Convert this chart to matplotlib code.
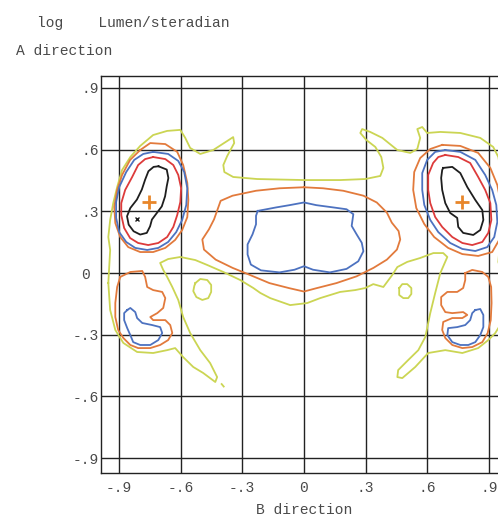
import matplotlib
matplotlib.use("Agg")
import matplotlib.pyplot as plt

# axis ticks (B direction = x, A direction = y)
ticks = [-0.9, -0.6, -0.3, 0.0, 0.3, 0.6, 0.9]
x_tick_labels = ["-.9", "-.6", "-.3", "0", ".3", ".6", ".9"]
y_tick_labels = ["-.9", "-.6", "-.3", "0 ", ".3", ".6", ".9"]

# iso-intensity lines, (B, A) pairs
# lowest level (yellow-green): one big loop round everything
yellow_outer = [
    (-0.951, -0.049), (-0.942, 0.112), (-0.951, 0.175), (-0.942, 0.258), (-0.927, 0.340),
    (-0.908, 0.418), (-0.884, 0.501), (-0.844, 0.564), (-0.796, 0.618), (-0.733, 0.671),
    (-0.665, 0.691), (-0.601, 0.696), (-0.577, 0.657), (-0.553, 0.608), (-0.504, 0.579),
    (-0.441, 0.598), (-0.373, 0.642), (-0.344, 0.661), (-0.339, 0.632), (-0.373, 0.569),
    (-0.392, 0.525), (-0.387, 0.491), (-0.344, 0.467), (-0.227, 0.457), (0.001, 0.452),
    (0.176, 0.452), (0.298, 0.457), (0.371, 0.472), (0.386, 0.511), (0.376, 0.564),
    (0.347, 0.613), (0.303, 0.647), (0.274, 0.681), (0.283, 0.700), (0.322, 0.686),
    (0.381, 0.657), (0.454, 0.598), (0.517, 0.584), (0.551, 0.603), (0.565, 0.657),
    (0.551, 0.700), (0.575, 0.710), (0.599, 0.681), (0.663, 0.686), (0.760, 0.681),
    (0.857, 0.657), (0.920, 0.613), (0.945, 0.564), (0.964, 0.452), (0.974, 0.306),
    (0.954, 0.161), (0.945, 0.054), (0.979, -0.058), (0.983, -0.156), (0.954, -0.253),
    (0.930, -0.292), (0.896, -0.326), (0.847, -0.365), (0.770, -0.389), (0.687, -0.375),
    (0.604, -0.389), (0.541, -0.457), (0.478, -0.511), (0.454, -0.506), (0.458, -0.472),
    (0.507, -0.423), (0.556, -0.375), (0.590, -0.311), (0.614, -0.195), (0.638, -0.097),
    (0.663, 0.000), (0.697, 0.078), (0.677, 0.097), (0.629, 0.097), (0.565, 0.073),
    (0.502, 0.054), (0.454, 0.029), (0.429, -0.010), (0.386, -0.068), (0.337, -0.054),
    (0.298, -0.073), (0.249, -0.083), (0.176, -0.092), (0.079, -0.122), (0.016, -0.146),
    (-0.067, -0.156), (-0.164, -0.122), (-0.212, -0.097), (-0.246, -0.073), (-0.310, -0.034),
    (-0.392, 0.005), (-0.470, 0.039), (-0.528, 0.063), (-0.601, 0.078), (-0.660, 0.068),
    (-0.699, 0.049), (-0.684, 0.015), (-0.665, -0.019), (-0.640, -0.068), (-0.611, -0.131),
    (-0.587, -0.214), (-0.553, -0.292), (-0.504, -0.375), (-0.456, -0.438), (-0.422, -0.506),
    (-0.431, -0.530), (-0.490, -0.486), (-0.538, -0.457), (-0.587, -0.409), (-0.626, -0.365),
    (-0.665, -0.375), (-0.733, -0.389), (-0.811, -0.384), (-0.878, -0.340), (-0.917, -0.277),
    (-0.942, -0.180),
]
yellow_ring_left = [
    (-0.528, -0.049), (-0.504, -0.029), (-0.470, -0.034), (-0.451, -0.058), (-0.451, -0.092),
    (-0.465, -0.122), (-0.494, -0.131), (-0.523, -0.117), (-0.538, -0.088), (-0.533, -0.063),
]
yellow_ring_right = [
    (0.463, -0.073), (0.478, -0.054), (0.502, -0.054), (0.522, -0.073), (0.522, -0.102),
    (0.507, -0.122), (0.483, -0.122), (0.463, -0.107),
]
yellow_dot = [(-0.400, -0.540), (-0.390, -0.552)]

# second level (orange)
orange_center = [
    (0.000, 0.417), (0.093, 0.412), (0.191, 0.400), (0.289, 0.376), (0.354, 0.343),
    (0.403, 0.294), (0.427, 0.245), (0.460, 0.204), (0.468, 0.163), (0.452, 0.114),
    (0.403, 0.065), (0.338, 0.025), (0.256, -0.016), (0.158, -0.049), (0.060, -0.074),
    (0.000, -0.090), (-0.070, -0.074), (-0.168, -0.049), (-0.266, -0.008), (-0.347, 0.025),
    (-0.429, 0.065), (-0.486, 0.114), (-0.494, 0.163), (-0.462, 0.212), (-0.437, 0.261),
    (-0.405, 0.351), (-0.347, 0.376), (-0.233, 0.400), (-0.119, 0.412),
]
orange_left_lobe = [
    (-0.796, 0.598), (-0.747, 0.632), (-0.674, 0.627), (-0.616, 0.589), (-0.587, 0.525),
    (-0.567, 0.438), (-0.562, 0.355), (-0.567, 0.272), (-0.592, 0.209), (-0.626, 0.161),
    (-0.674, 0.122), (-0.733, 0.102), (-0.796, 0.102), (-0.854, 0.126), (-0.893, 0.175),
    (-0.917, 0.243), (-0.922, 0.321), (-0.908, 0.404), (-0.884, 0.477), (-0.845, 0.550),
]
orange_right_lobe = [
    (0.672, 0.623), (0.760, 0.618), (0.847, 0.584), (0.906, 0.511), (0.940, 0.428),
    (0.959, 0.331), (0.964, 0.233), (0.949, 0.161), (0.915, 0.102), (0.847, 0.083),
    (0.770, 0.092), (0.701, 0.122), (0.633, 0.175), (0.585, 0.238), (0.546, 0.316),
    (0.531, 0.404), (0.536, 0.491), (0.565, 0.559), (0.614, 0.603),
]
orange_low_left = [
    (-0.893, -0.019), (-0.844, 0.005), (-0.786, 0.010), (-0.772, -0.019), (-0.762, -0.068),
    (-0.733, -0.083), (-0.689, -0.092), (-0.674, -0.122), (-0.684, -0.170), (-0.713, -0.195),
    (-0.747, -0.214), (-0.733, -0.229), (-0.674, -0.229), (-0.650, -0.253), (-0.640, -0.292),
    (-0.660, -0.326), (-0.699, -0.350), (-0.747, -0.365), (-0.806, -0.365), (-0.844, -0.350),
    (-0.878, -0.316), (-0.903, -0.277), (-0.917, -0.214), (-0.917, -0.146), (-0.908, -0.068),
]
orange_low_right = [
    (0.784, 0.000), (0.818, 0.015), (0.867, 0.005), (0.896, -0.019), (0.910, -0.068),
    (0.912, -0.146), (0.908, -0.229), (0.893, -0.292), (0.867, -0.336), (0.818, -0.360),
    (0.770, -0.365), (0.721, -0.350), (0.687, -0.316), (0.672, -0.277), (0.677, -0.238),
    (0.721, -0.219), (0.770, -0.219), (0.794, -0.204), (0.774, -0.190), (0.721, -0.195),
    (0.687, -0.190), (0.667, -0.156), (0.667, -0.117), (0.697, -0.092), (0.745, -0.092),
    (0.774, -0.073), (0.784, -0.034),
]

# third level (blue)
blue_center = [
    (-0.225, 0.302), (-0.135, 0.319), (-0.070, 0.330), (0.000, 0.343), (0.060, 0.330),
    (0.142, 0.319), (0.207, 0.310), (0.240, 0.286), (0.232, 0.229), (0.256, 0.188),
    (0.281, 0.147), (0.289, 0.106), (0.264, 0.057), (0.207, 0.020), (0.126, 0.003),
    (0.044, 0.016), (0.000, 0.033), (-0.046, 0.016), (-0.119, 0.003), (-0.209, 0.013),
    (-0.258, 0.041), (-0.274, 0.090), (-0.274, 0.139), (-0.250, 0.188), (-0.233, 0.237),
    (-0.233, 0.278),
]
blue_left_lobe = [
    (-0.733, 0.589), (-0.660, 0.579), (-0.611, 0.545), (-0.582, 0.491), (-0.567, 0.413),
    (-0.572, 0.331), (-0.592, 0.258), (-0.621, 0.199), (-0.660, 0.151), (-0.708, 0.122),
    (-0.762, 0.112), (-0.820, 0.122), (-0.864, 0.151), (-0.898, 0.199), (-0.913, 0.268),
    (-0.913, 0.345), (-0.898, 0.418), (-0.864, 0.491), (-0.825, 0.550), (-0.781, 0.579),
]
blue_right_lobe = [
    (0.687, 0.598), (0.760, 0.589), (0.833, 0.550), (0.881, 0.477), (0.915, 0.404),
    (0.935, 0.331), (0.940, 0.248), (0.925, 0.175), (0.891, 0.126), (0.833, 0.107),
    (0.770, 0.117), (0.711, 0.146), (0.653, 0.199), (0.614, 0.258), (0.585, 0.331),
    (0.575, 0.404), (0.575, 0.486), (0.599, 0.550), (0.638, 0.589),
]
blue_low_left = [
    (-0.859, -0.180), (-0.844, -0.170), (-0.820, -0.190), (-0.811, -0.219), (-0.786, -0.243),
    (-0.738, -0.253), (-0.699, -0.263), (-0.689, -0.292), (-0.708, -0.326), (-0.747, -0.350),
    (-0.796, -0.350), (-0.830, -0.336), (-0.844, -0.302), (-0.859, -0.268), (-0.874, -0.229),
    (-0.874, -0.195),
]
blue_low_right = [
    (0.833, -0.180), (0.857, -0.175), (0.872, -0.204), (0.872, -0.263), (0.857, -0.302),
    (0.833, -0.336), (0.799, -0.350), (0.760, -0.350), (0.721, -0.336), (0.697, -0.302),
    (0.701, -0.268), (0.745, -0.263), (0.784, -0.253), (0.808, -0.229), (0.818, -0.195),
]

# fourth level (red)
red_left_lobe = [
    (-0.733, 0.564), (-0.674, 0.554), (-0.635, 0.525), (-0.611, 0.477), (-0.597, 0.413),
    (-0.601, 0.345), (-0.616, 0.282), (-0.635, 0.224), (-0.665, 0.175), (-0.708, 0.146),
    (-0.757, 0.136), (-0.806, 0.146), (-0.845, 0.170), (-0.874, 0.219), (-0.888, 0.282),
    (-0.888, 0.340), (-0.869, 0.404), (-0.835, 0.467), (-0.806, 0.525), (-0.772, 0.554),
]
red_right_lobe = [
    (0.687, 0.574), (0.750, 0.564), (0.808, 0.535), (0.847, 0.467), (0.881, 0.404),
    (0.906, 0.340), (0.911, 0.258), (0.896, 0.195), (0.867, 0.151), (0.818, 0.136),
    (0.770, 0.146), (0.721, 0.175), (0.672, 0.224), (0.638, 0.272), (0.614, 0.340),
    (0.604, 0.404), (0.604, 0.477), (0.628, 0.535), (0.653, 0.564),
]

# highest level (black)
black_left_lobe = [
    (-0.707, 0.519), (-0.667, 0.503), (-0.659, 0.462), (-0.667, 0.422), (-0.675, 0.373),
    (-0.691, 0.324), (-0.715, 0.292), (-0.739, 0.260), (-0.748, 0.227), (-0.764, 0.195),
    (-0.796, 0.187), (-0.828, 0.203), (-0.852, 0.235), (-0.860, 0.276), (-0.844, 0.316),
    (-0.812, 0.357), (-0.788, 0.406), (-0.772, 0.454), (-0.756, 0.495), (-0.731, 0.516),
]
black_right_lobe = [
    (0.677, 0.511), (0.721, 0.516), (0.760, 0.486), (0.794, 0.418), (0.833, 0.355),
    (0.867, 0.306), (0.872, 0.258), (0.857, 0.209), (0.823, 0.185), (0.774, 0.195),
    (0.750, 0.224), (0.745, 0.268), (0.711, 0.292), (0.687, 0.340), (0.672, 0.404),
    (0.667, 0.462), (0.672, 0.501),
]

# maxima and the odd spot
peak_b = [-0.751, 0.770]
peak_a = [0.344, 0.345]
spot_b = [-0.812]
spot_a = [0.264]

col_yellow = "#cbd553"
col_orange = "#e27a3c"
col_blue = "#4d72c0"
col_red = "#dd3b3b"
col_black = "#1e1e1e"

font = "Liberation Mono"
txt_col = "#4a4a4a"


def draw_loop(ax, pts, color, closed=True):
    xs = [p[0] for p in pts]
    ys = [p[1] for p in pts]
    if closed:
        xs.append(xs[0])
        ys.append(ys[0])
    ax.plot(xs, ys, color=color, lw=1.3, zorder=3, solid_joinstyle="round")


fig = plt.figure(figsize=(4.98, 5.18), dpi=100)
# axes run past the right border, like the cropped original
ax = fig.add_axes([100.7 / 498, (518 - 472.7) / 518, 406.5 / 498, (472.7 - 76) / 518])
ax.set_xlim(-0.988, 0.988)
ax.set_ylim(-0.971, 0.958)

ax.set_xticks(ticks)
ax.set_yticks(ticks)
ax.set_xticklabels(x_tick_labels, fontfamily=font, fontsize=10.5, color=txt_col)
ax.set_yticklabels(y_tick_labels, fontfamily=font, fontsize=10.5, color=txt_col)
ax.tick_params(axis="both", length=0)
ax.tick_params(axis="x", pad=6)
ax.tick_params(axis="y", pad=1)
ax.grid(True, color="#222222", lw=1.0, zorder=1)
ax.set_axisbelow(True)
for s in ax.spines.values():
    s.set_color("#222222")
    s.set_linewidth(1.0)

draw_loop(ax, yellow_outer, col_yellow)
draw_loop(ax, yellow_ring_left, col_yellow)
draw_loop(ax, yellow_ring_right, col_yellow)
draw_loop(ax, yellow_dot, col_yellow, closed=False)

for loop in [orange_center, orange_left_lobe, orange_right_lobe, orange_low_left, orange_low_right]:
    draw_loop(ax, loop, col_orange)
for loop in [blue_center, blue_left_lobe, blue_right_lobe, blue_low_left, blue_low_right]:
    draw_loop(ax, loop, col_blue)
for loop in [red_left_lobe, red_right_lobe]:
    draw_loop(ax, loop, col_red)
for loop in [black_left_lobe, black_right_lobe]:
    draw_loop(ax, loop, col_black)

ax.plot(peak_b, peak_a, ls="none", marker="+", ms=10, mew=2.0, color="#e8862a", zorder=4)
ax.plot(spot_b, spot_a, ls="none", marker="x", ms=3.5, mew=1.0, color=col_black, zorder=4)

fig.text(37 / 498, 1 - 27 / 518, "log    Lumen/steradian", fontfamily=font,
         fontsize=10.5, color=txt_col, ha="left", va="baseline")
fig.text(16 / 498, 1 - 55 / 518, "A direction", fontfamily=font,
         fontsize=10.5, color=txt_col, ha="left", va="baseline")
fig.text(304 / 498, 1 - 510 / 518, "B direction", fontfamily=font,
         fontsize=10.5, color=txt_col, ha="center", va="center")

fig.savefig("out.png", dpi=100)
